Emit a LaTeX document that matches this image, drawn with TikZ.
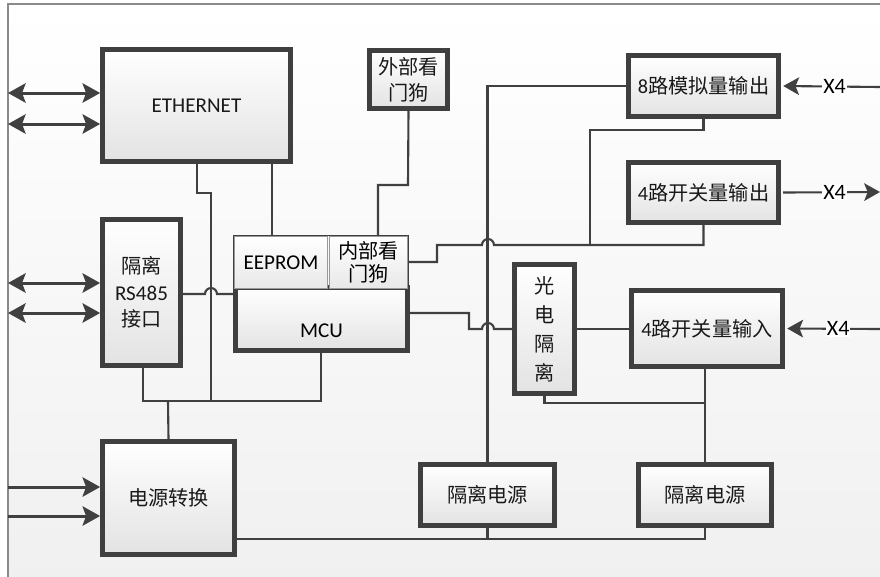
\documentclass[tikz,border=0pt]{standalone}
\usepackage{fontspec}
\setmainfont{Carlito}
\newfontfamily\cjk{Noto Sans CJK SC}
\usetikzlibrary{arrows.meta,positioning,shadows}
\definecolor{boxline}{HTML}{3F3F3F}
\definecolor{wirec}{HTML}{404040}
\definecolor{framec}{HTML}{8A8A8A}
\newcommand{\zh}[1]{{\cjk #1}}

\begin{document}
\begin{tikzpicture}[x=0.02cm,y=-0.02cm,
  blk/.style={draw=boxline, line width=2.7pt, top color=white, bottom color=black!11,
    drop shadow={shadow xshift=1.5pt,shadow yshift=-1.5pt,opacity=.15},
    inner sep=0pt, align=center, font=\fontsize{11.5}{15}\selectfont, text=black!90},
  cell/.style={draw=black!40, line width=1pt, top color=white, bottom color=black!9,
    inner sep=0pt, align=center, font=\fontsize{11.5}{13}\selectfont},
  wire/.style={draw=wirec, line width=1.2pt},
  bidir/.style={wire, line width=1.7pt, {Stealth[length=10pt,width=11pt,inset=2pt]}-{Stealth[length=10pt,width=11pt,inset=2pt]}},
  inarr/.style={wire, line width=1.7pt, -{Stealth[length=10pt,width=11pt,inset=2pt]}},
  sig/.style={wire, -{Stealth[length=9pt,width=10pt,inset=2pt]}},
  xlbl/.style={fill=white, inner sep=0.5pt, font=\fontsize{12.5}{13}\selectfont}]

  \useasboundingbox (0,0) rectangle (880,576);
  \shade[top color=white, bottom color=black!6] (8,4) rectangle (900,600);
  \draw[framec, line width=0.6pt] (8,600) -- (8,4) -- (900,4);

  %% blocks
  \node[blk, minimum width=3.76cm, minimum height=2.24cm, font=\fontsize{12}{14}\selectfont] (eth) at (196.5,105.5) {ETHERNET};
  \node[blk, minimum width=1.56cm, minimum height=1.16cm] (ewd) at (408.5,79.5) {\zh{外部看}\\\zh{门狗}};
  \node[blk, minimum width=1.56cm, minimum height=2.92cm] (rs) at (141.5,292.5) {\zh{隔离}\\{\fontsize{12}{15}\selectfont RS485}\\\zh{接口}};
  \node[blk, minimum width=3.44cm, minimum height=1.26cm,
    label={[font=\fontsize{12}{14}\selectfont, yshift=-0.24cm]center:MCU}] (mcu) at (321.5,319) {};
  \node[cell, minimum width=1.86cm, minimum height=1.04cm, font=\fontsize{12}{14}\selectfont] (ee) at (281,262.5) {EEPROM};
  \node[cell, minimum width=1.56cm, minimum height=1.04cm] (iwd) at (368.5,262.5) {\zh{内部看}\\\zh{门狗}};
  \draw[boxline, line width=0.9pt] (ee.south west) -- (ee.north west) -- (iwd.north east) -- (iwd.south east);
  \node[blk, minimum width=2.64cm, minimum height=2.26cm] (pwr) at (168.5,498) {\zh{电源转换}};
  \node[blk, minimum width=3.0cm, minimum height=1.22cm] (aout) at (703.5,86) {8\zh{路模拟量输出}};
  \node[blk, minimum width=3.0cm, minimum height=1.2cm] (dout) at (703.5,192.5) {4\zh{路开关量输出}};
  \node[blk, minimum width=1.2cm, minimum height=2.58cm, font=\fontsize{11.5}{16.5}\selectfont] (opto) at (544.5,329) {\zh{光}\\\zh{电}\\\zh{隔}\\\zh{离}};
  \node[blk, minimum width=3.02cm, minimum height=1.52cm] (din) at (707,328.5) {4\zh{路开关量输入}};
  \node[blk, minimum width=2.68cm, minimum height=1.22cm] (iso1) at (487.5,495) {\zh{隔离电源}};
  \node[blk, minimum width=2.66cm, minimum height=1.22cm] (iso2) at (705,495) {\zh{隔离电源}};

  %% left side
  \draw[bidir] (8,93) -- (eth.west |- 0,93);
  \draw[bidir] (8,124) -- (eth.west |- 0,124);
  \draw[bidir] (8,283) -- (rs.west |- 0,283);
  \draw[bidir] (8,313) -- (rs.west |- 0,313);
  \draw[inarr] (8,487) -- (pwr.west |- 0,487);
  \draw[inarr] (8,516) -- (pwr.west |- 0,516);

  %% bus
  \draw[wire] (eth.south -| 197,0) -- (197,193) -- (211,193) -- (211,401);
  \draw[wire] (rs.south -| 143,0) |- (321,401) -- (mcu.south -| 321,0);
  \draw[wire] (168,401) -- (pwr.north);
  \draw[wire] (eth.south -| 272,0) -- (ee.north -| 272,0);
  \draw[wire] (ewd.south) -- (408,185) -- (378,185) -- (iwd.north -| 378,0);
  \draw[wire] (rs.east |- 0,294) -- (205,294) arc[start angle=180,end angle=0,radius=3.4pt] -- (mcu.west |- 0,294);

  %% outputs
  \draw[wire] (iwd.east |- 0,262) -- (437,262) -- (437,245) -- (482,245)
    arc[start angle=180,end angle=0,radius=3.4pt] -- (dout.south |- 0,245) -- (dout.south);
  \draw[wire] (590,245) |- (aout.south |- 0,130) -- (aout.south);
  \draw[wire] (aout.west) -| (iso1.north);

  %% inputs
  \draw[wire] (mcu.east |- 0,313) -- (469,313) -- (469,329) -- (482,329)
    arc[start angle=180,end angle=0,radius=3.4pt] -- (opto.west);
  \draw[wire] (opto.east) -- (opto.east -| din.west);
  \draw[wire] (opto.south) |- (705,403);
  \draw[wire] (din.south -| 705,0) -- (iso2.north);

  %% power
  \draw[wire] (pwr.east |- 0,539) -| (iso2.south);
  \draw[wire] (iso1.south) -- (iso1.south |- 0,539);

  %% X4
  \draw[sig] (880,87) -- node[xlbl, pos=0.47] {X4} ([xshift=1.35pt]aout.east);
  \draw[sig] ([xshift=1.35pt]dout.east) -- node[xlbl, pos=0.53] {X4} (880,192);
  \draw[sig] (880,329) -- node[xlbl, pos=0.45] {X4} ([xshift=1.35pt]din.east);
\end{tikzpicture}
\end{document}
